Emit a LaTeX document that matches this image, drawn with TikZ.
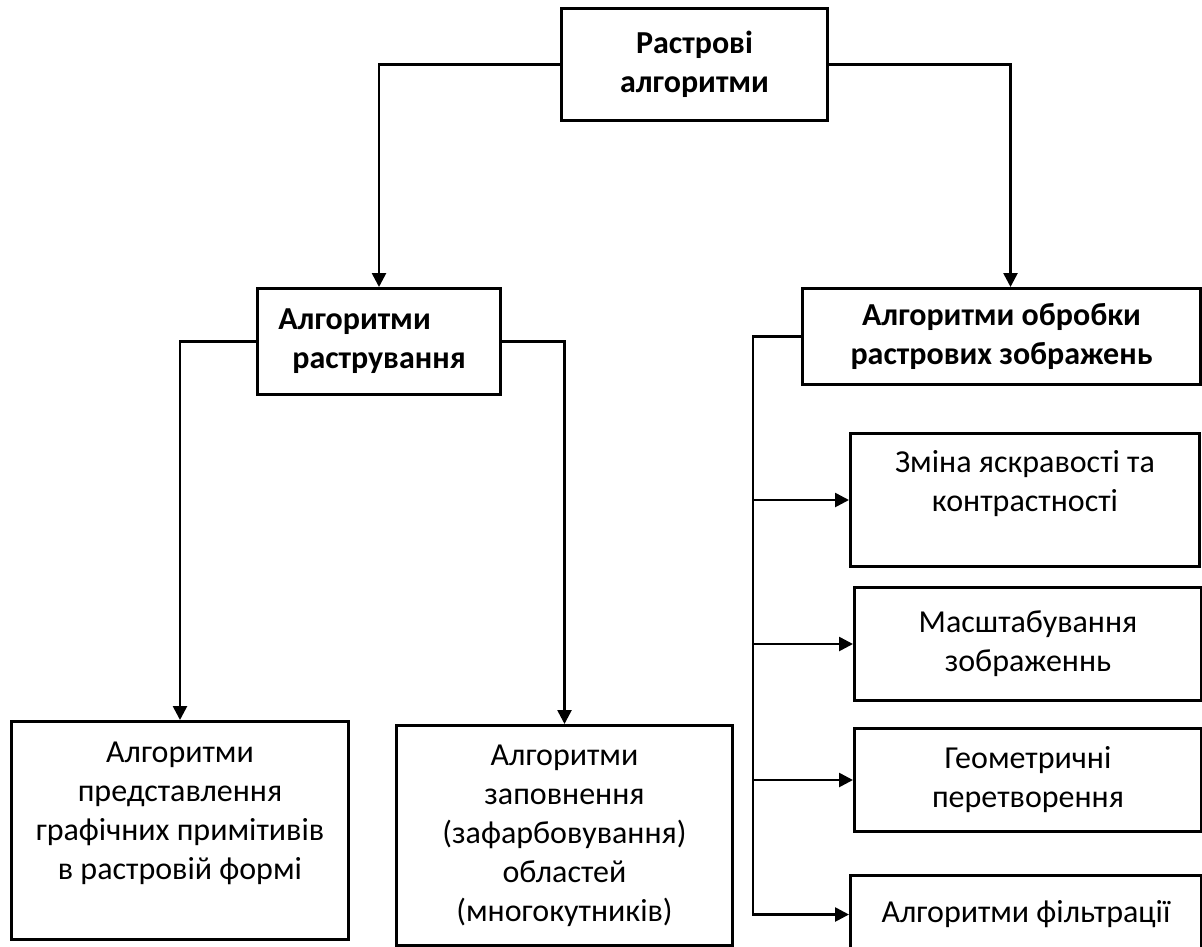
\documentclass[tikz,border=0pt]{standalone}
\usepackage{fontspec}
\setmainfont{Carlito}
\usetikzlibrary{arrows.meta}

\begin{document}
\begin{tikzpicture}[x=1pt, y=-1pt,
	block/.style={
		draw, line width=3pt, rectangle, anchor=north west,
		align=center, inner sep=0pt,
		font=\fontsize{32}{39}\selectfont},
	head/.style={block, font=\fontsize{32}{39}\selectfont\bfseries},
	link/.style={line width=2.6pt, -{Triangle[width=14pt,length=14pt]}}]
	\path[use as bounding box, clip] (0,0) rectangle (1202,946);
	\node[head, minimum width=266pt, minimum height=112pt] (top) at (560,7) {Растрові\\алгоритми};
	\node[head, align=left, minimum width=243pt, minimum height=106pt] (rast) at (256,287) {\hspace*{-14pt}Алгоритми\\растрування};
	\node[head, minimum width=398pt, minimum height=96pt] (proc) at (801,287) {Алгоритми обробки\\растрових зображень};
	\node[block, minimum width=337pt, minimum height=218pt] (prims) at (10,720) {Алгоритми\\представлення\\графічних примітивів\\в растровій формі\\ \mbox{}};
	\node[block, minimum width=336pt, minimum height=220pt] (fill) at (395,724) {Алгоритми\\заповнення\\(зафарбовування)\\областей\\(многокутників)};
	\node[block, minimum width=349pt, minimum height=133pt] (bright) at (849,432) {Зміна яскравості та\\контрастності\\ \mbox{}};
	\node[block, minimum width=347pt, minimum height=113pt] (scale) at (853,586) {Масштабування\\зображеннь};
	\node[block, minimum width=347pt, minimum height=103pt] (geom) at (853,727) {Геометричні\\перетворення};
	\node[block, minimum width=351pt, minimum height=78pt] (filt) at (849,874) {Алгоритми фільтрації};
	\coordinate (bus) at (753,0);
	% top level
	\draw[link] (top.west) -| (rast.north);
	\draw[link] (top.east) -| ([xshift=9pt]proc.north);
	% rasterisation
	\draw[link] (rast.west) -| (prims.north);
	\draw[link] (rast.east) -| (fill.north);
	% processing
	\draw[link] (proc.west) -- (proc.west -| bus) |- (filt.west);
	\foreach \n in {bright, scale, geom}
		\draw[link] (\n.west -| bus) -- (\n.west);
\end{tikzpicture}
\end{document}
